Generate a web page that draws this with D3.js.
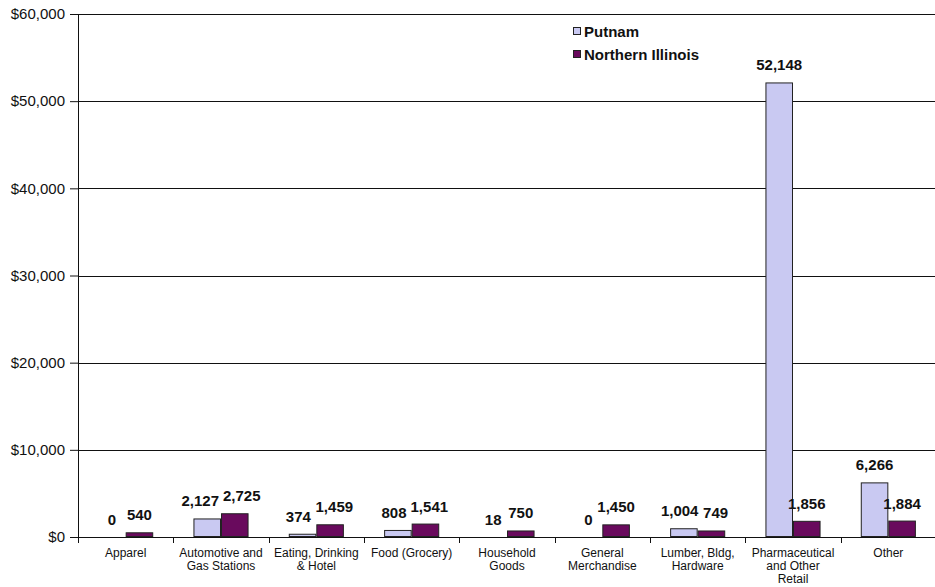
<!DOCTYPE html>
<html>
<head>
<meta charset="utf-8">
<script src="https://cdn.jsdelivr.net/npm/d3@7"></script>
<style>
	body { margin: 0; background: #fff; }
	text { font-family: "Liberation Sans", Arial, sans-serif; }
</style>
</head>
<body>
<div id="chart"></div>
<script>
// data
const categories = [
	["Apparel"],
	["Automotive and", "Gas Stations"],
	["Eating, Drinking", "& Hotel"],
	["Food (Grocery)"],
	["Household", "Goods"],
	["General", "Merchandise"],
	["Lumber, Bldg,", "Hardware"],
	["Pharmaceutical", "and Other", "Retail"],
	["Other"]
];
const seriesNames = ["Putnam", "Northern Illinois"];
const putnam = [0, 2127, 374, 808, 18, 0, 1004, 52148, 6266];
const northernIllinois = [540, 2725, 1459, 1541, 750, 1450, 749, 1856, 1884];
const yTicks = [0, 10000, 20000, 30000, 40000, 50000, 60000];

const colors = ["#C9C9F2", "#690A5D"];

const W = 935, H = 587;
const margin = { top: 14, right: -1, bottom: 50, left: 78 };
const width = W - margin.left - margin.right;
const height = H - margin.top - margin.bottom;

const svg = d3.select("#chart")
	.append("svg")
	.attr("width", W)
	.attr("height", H)
	.append("g")
	.attr("transform", `translate(${margin.left},${margin.top})`);

const rows = categories.map((c, i) => ({ idx: i, label: c, values: [putnam[i], northernIllinois[i]] }));

// scales
const x0 = d3.scaleBand()
	.domain(rows.map(d => d.idx))
	.range([0, width])
	.paddingInner(0)
	.paddingOuter(0);

const x1 = d3.scaleBand()
	.domain([0, 1])
	.range([0, x0.bandwidth()])
	.paddingInner(0)
	.paddingOuter(0.73);

const y = d3.scaleLinear()
	.domain([0, 60000])
	.range([height, 0]);

// gridlines
svg.append("g")
	.selectAll("line")
	.data(yTicks.slice(1))
	.enter()
	.append("line")
	.attr("x1", 0)
	.attr("x2", width)
	.attr("y1", d => Math.round(y(d)) + 0.5)
	.attr("y2", d => Math.round(y(d)) + 0.5)
	.attr("stroke", "#111")
	.attr("stroke-width", 1);

// y axis
const yAxis = svg.append("g")
	.attr("class", "y-axis")
	.call(d3.axisLeft(y).tickValues(yTicks).tickSize(8).tickPadding(5)
		.tickFormat(d => "$" + d3.format(",")(d)));
yAxis.select(".domain").attr("stroke", "#111");
yAxis.selectAll(".tick line").attr("stroke", "#111");
yAxis.selectAll("text")
	.style("font-size", "15px")
	.style("fill", "#111");

// bars
const groups = svg.selectAll(".cat")
	.data(rows)
	.enter()
	.append("g")
	.attr("class", "cat")
	.attr("transform", d => `translate(${x0(d.idx)},0)`);

groups.selectAll("rect")
	.data(d => d.values.map((v, s) => ({ s, v })))
	.enter()
	.append("rect")
	.attr("x", d => x1(d.s) + 0.5)
	.attr("y", d => y(d.v) + 0.5)
	.attr("width", x1.bandwidth() - 1)
	.attr("height", d => Math.max(0, height - y(d.v) - 1))
	.attr("fill", d => colors[d.s])
	.attr("stroke", "#222")
	.attr("stroke-width", 1)
	.style("display", d => d.v > 0 ? null : "none");

// value labels, pushed apart when a pair would collide
groups.each(function (d) {
	const g = d3.select(this);
	const labels = d.values.map((v, s) =>
		g.append("text")
			.attr("x", x1(s) + x1.bandwidth() / 2)
			.attr("y", y(v) - 12)
			.attr("text-anchor", "middle")
			.style("font-size", "15px")
			.style("font-weight", 700)
			.style("fill", "#111")
			.text(d3.format(",")(v))
	);
	const b = labels.map(l => l.node().getBBox());
	const vOverlap = b[0].y < b[1].y + b[1].height && b[1].y < b[0].y + b[0].height;
	const overlap = b[0].x + b[0].width + 4 - b[1].x;
	if (vOverlap && overlap > 0) {
		labels[0].attr("x", +labels[0].attr("x") - overlap / 2);
		labels[1].attr("x", +labels[1].attr("x") + overlap / 2);
	}
});

// x axis (baseline + ticks at band edges)
svg.append("line")
	.attr("x1", 0)
	.attr("x2", width)
	.attr("y1", height + 0.5)
	.attr("y2", height + 0.5)
	.attr("stroke", "#111");

svg.append("g")
	.selectAll("line")
	.data(d3.range(categories.length + 1))
	.enter()
	.append("line")
	.attr("x1", i => Math.round(i * x0.bandwidth()) + 0.5)
	.attr("x2", i => Math.round(i * x0.bandwidth()) + 0.5)
	.attr("y1", height)
	.attr("y2", height + 6)
	.attr("stroke", "#111");

const catText = groups.append("text")
	.attr("text-anchor", "middle")
	.style("font-size", "12px")
	.style("fill", "#111");
catText.selectAll("tspan")
	.data(d => d.label)
	.enter()
	.append("tspan")
	.attr("x", x0.bandwidth() / 2)
	.attr("y", (t, i) => height + 20 + i * 13)
	.text(t => t);

// legend
const legend = svg.append("g")
	.attr("transform", `translate(${573 - margin.left},${31 - margin.top})`);
seriesNames.forEach((name, i) => {
	const row = legend.append("g").attr("transform", `translate(0,${i * 23})`);
	row.append("rect")
		.attr("x", 0.5)
		.attr("y", -3.5)
		.attr("width", 7)
		.attr("height", 7)
		.attr("fill", colors[i])
		.attr("stroke", "#222");
	row.append("text")
		.attr("x", 11)
		.attr("y", 5.5)
		.style("font-size", "15px")
		.style("font-weight", 700)
		.style("fill", "#111")
		.text(name);
});
</script>
</body>
</html>
